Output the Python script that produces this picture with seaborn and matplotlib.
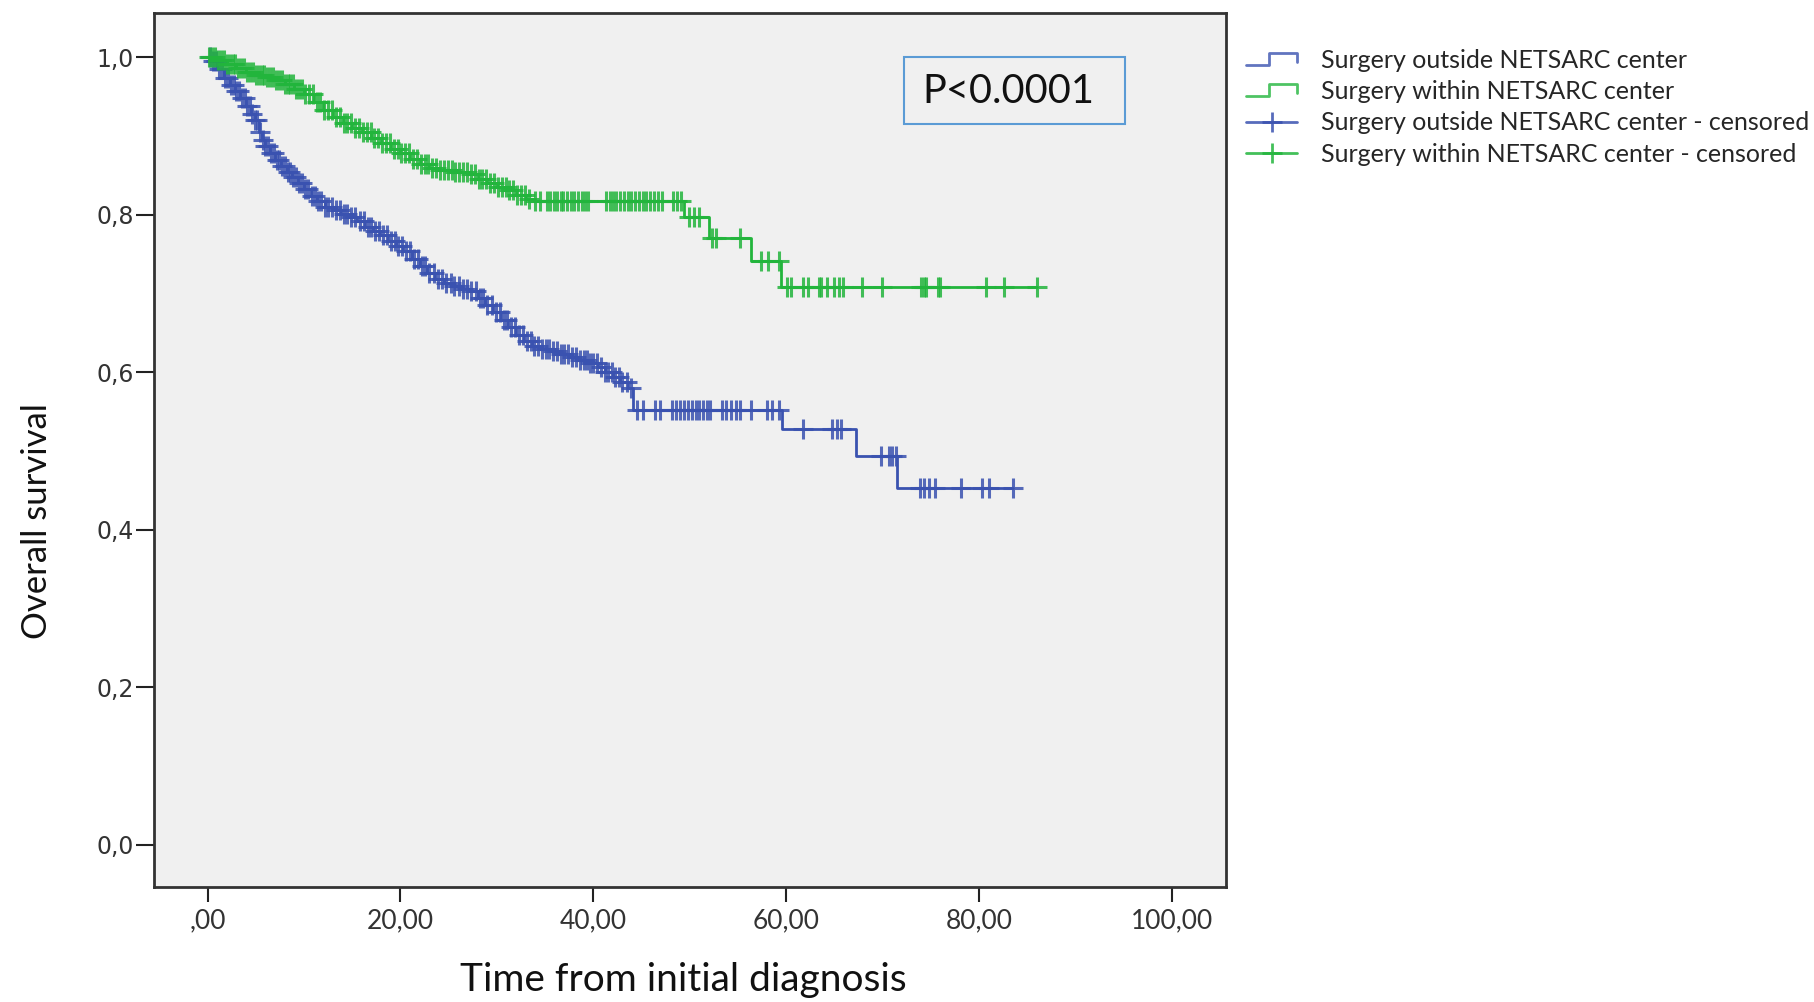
import numpy as np
import pandas as pd
import matplotlib
matplotlib.use('Agg')
import matplotlib.pyplot as plt
import seaborn as sns
from matplotlib.lines import Line2D
from matplotlib.legend_handler import HandlerBase
from matplotlib.patches import Rectangle

sns.set_theme(style="white")
plt.rcParams['font.family'] = ['Lato', 'DejaVu Sans']

# Kaplan-Meier steps (time, survival after the drop)
outside_event_time = [0.0, 0.5, 1.0, 1.7, 2.3, 2.9, 3.4, 4.0, 4.5, 4.9, 5.3, 5.6, 6.0, 6.5,
                      7.0, 7.6, 8.2, 8.8, 9.4, 10.0, 10.7, 11.4, 12.2, 13.0, 13.8, 14.6,
                      15.5, 16.3, 17.2, 17.9, 18.7, 19.5, 20.3, 21.2, 22.0, 22.8, 23.6,
                      24.5, 25.4, 26.3, 27.1, 28.0, 28.8, 29.6, 30.4, 31.2, 32.0, 32.8,
                      33.6, 34.5, 35.5, 36.5, 37.5, 38.5, 39.5, 40.5, 41.2, 42.0, 42.8,
                      43.6, 44.1, 59.6, 67.2, 71.5]
outside_event_surv = [1.0, 0.995, 0.985, 0.974, 0.965, 0.957, 0.949, 0.938, 0.928, 0.920,
                      0.905, 0.895, 0.888, 0.878, 0.870, 0.862, 0.855, 0.848, 0.840, 0.833,
                      0.824, 0.817, 0.810, 0.806, 0.801, 0.797, 0.792, 0.785, 0.780, 0.775,
                      0.767, 0.760, 0.754, 0.744, 0.735, 0.726, 0.719, 0.713, 0.709, 0.706,
                      0.703, 0.694, 0.686, 0.676, 0.666, 0.658, 0.648, 0.640, 0.633, 0.630,
                      0.627, 0.623, 0.619, 0.616, 0.612, 0.607, 0.600, 0.594, 0.588, 0.580,
                      0.552, 0.528, 0.493, 0.453]
outside_censor_time = [0.3, 0.6, 0.9, 1.2, 1.5, 1.8, 2.1, 2.4, 2.7, 3.0, 3.3, 3.6, 3.9, 4.1,
                       4.4, 4.6, 4.9, 5.1, 5.4, 5.7, 6.0, 6.3, 6.6, 6.9, 7.2, 7.4, 7.7, 8.0,
                       8.3, 8.6, 8.9, 9.2, 9.5, 9.8, 10.1, 10.4, 10.8, 11.1, 11.5, 11.8,
                       12.2, 12.5, 12.9, 13.3, 13.7, 14.1, 14.5, 14.9, 15.3, 15.8, 16.2,
                       16.6, 17.0, 17.4, 17.8, 18.2, 18.6, 19.0, 19.4, 19.8, 20.2, 20.6,
                       21.0, 21.4, 21.8, 22.2, 22.6, 23.0, 23.5, 23.9, 24.3, 24.7, 25.2,
                       25.6, 26.1, 26.5, 26.9, 27.3, 27.8, 28.2, 28.6, 29.0, 29.5, 29.9,
                       30.3, 30.7, 31.1, 31.5, 31.9, 32.3, 32.7, 33.1, 33.5, 33.9, 34.3,
                       34.7, 35.1, 35.4, 35.8, 36.2, 36.6, 37.0, 37.4, 37.8, 38.2, 38.6,
                       39.0, 39.3, 39.7, 40.0, 40.4, 40.8, 41.2, 41.5, 41.9, 42.3, 42.7,
                       43.0, 43.5, 43.9,
                       44.5, 45.1, 46.4, 46.9, 48.2, 48.6, 49.0, 49.4, 49.8, 50.2, 50.6,
                       51.0, 51.4, 51.8, 52.1, 53.3, 53.8, 54.3, 54.8, 55.2, 56.3, 58.0,
                       58.5, 59.3, 61.7, 64.8, 65.3, 65.7, 69.8, 70.7, 71.0, 71.4, 73.9,
                       74.3, 74.8, 75.4, 78.1, 80.3, 81.0, 83.5]

within_event_time = [0.0, 1.0, 2.0, 3.0, 4.0, 5.0, 6.0, 7.0, 8.0, 9.0, 10.0, 11.0, 12.0,
                     13.0, 14.0, 15.0, 16.0, 17.0, 18.0, 19.0, 20.0, 21.0, 22.0, 23.0,
                     24.0, 25.5, 27.0, 28.0, 29.0, 30.0, 31.0, 32.0, 33.0, 33.8, 49.4,
                     52.0, 56.3, 59.5]
within_event_surv = [1.0, 0.997, 0.992, 0.986, 0.981, 0.978, 0.975, 0.971, 0.966, 0.960,
                     0.953, 0.943, 0.933, 0.924, 0.917, 0.911, 0.905, 0.898, 0.891, 0.884,
                     0.878, 0.871, 0.865, 0.860, 0.857, 0.855, 0.852, 0.846, 0.840, 0.836,
                     0.831, 0.825, 0.820, 0.817, 0.797, 0.771, 0.742, 0.708]
within_censor_time = [0.2, 0.5, 0.8, 1.1, 1.4, 1.7, 2.0, 2.3, 2.6, 2.9, 3.2, 3.5, 3.8, 4.1,
                      4.4, 4.7, 5.0, 5.3, 5.6, 5.9, 6.2, 6.5, 6.8, 7.1, 7.4, 7.7, 8.0, 8.3,
                      8.6, 8.9, 9.2, 9.5, 9.8, 10.1, 10.5, 10.9, 11.3, 11.7, 12.1, 12.5,
                      12.9, 13.3, 13.7, 14.1, 14.5, 14.9, 15.3, 15.7, 16.1, 16.5, 16.9,
                      17.3, 17.7, 18.1, 18.5, 18.9, 19.3, 19.7, 20.1, 20.5, 20.9, 21.3,
                      21.7, 22.1, 22.5, 22.9, 23.3, 23.7, 24.1, 24.5, 24.9, 25.3, 25.7,
                      26.1, 26.5, 26.9, 27.3, 27.7, 28.1, 28.5, 28.9, 29.3, 29.7, 30.1,
                      30.5, 30.9, 31.3, 31.7, 32.1, 32.5, 32.9, 33.3,
                      34.0, 34.5, 35.2, 35.5, 35.9, 36.2, 36.6, 36.9, 37.3, 37.7, 38.0,
                      38.4, 38.8, 39.1, 39.5, 41.3, 41.7, 42.0, 42.4, 42.8, 43.2, 43.6,
                      43.9, 44.3, 44.7, 45.1, 45.5, 45.9, 46.3, 46.7, 47.1, 48.3, 48.7,
                      49.1, 49.9, 50.4, 51.0, 52.3, 52.7, 55.2, 57.4, 58.1, 59.3,
                      60.1, 60.5, 61.7, 62.3, 63.4, 63.6, 64.2, 65.0, 65.5, 65.9, 67.9,
                      69.9, 74.0, 74.3, 74.5, 75.7, 75.9, 80.7, 82.6, 86.0]

group_labels = ['Surgery outside NETSARC center', 'Surgery within NETSARC center']
x_ticks = [0, 20, 40, 60, 80, 100]
x_tick_labels = [',00', '20,00', '40,00', '60,00', '80,00', '100,00']
y_ticks = [0.0, 0.2, 0.4, 0.6, 0.8, 1.0]
y_tick_labels = ['0,0', '0,2', '0,4', '0,6', '0,8', '1,0']
p_text = 'P<0.0001'

blue = '#3A52B0'
green = '#22B53C'


def km_table(times, surv, censors):
    end = max(times[-1], censors[-1])
    return pd.DataFrame({'time': list(times) + [end], 'surv': list(surv) + [surv[-1]]})


def surv_at(times, surv, t):
    idx = np.searchsorted(np.asarray(times), np.asarray(t), side='right') - 1
    return np.asarray(surv)[idx]


fig = plt.figure(figsize=(18.14, 10.02), dpi=100)
ax = fig.add_axes([154 / 1814, 1 - 887 / 1002, (1226 - 154) / 1814, (887 - 13) / 1002])
ax.set_facecolor('#F0F0F0')

groups = [
    (outside_event_time, outside_event_surv, outside_censor_time, blue),
    (within_event_time, within_event_surv, within_censor_time, green),
]
for times, surv, cens, col in groups:
    df = km_table(times, surv, cens)
    sns.lineplot(data=df, x='time', y='surv', drawstyle='steps-post', color=col,
                 linewidth=2.0, estimator=None, sort=False, ax=ax)
    sns.scatterplot(x=cens, y=surv_at(times, surv, cens), marker='+', s=200,
                    linewidth=2.2, color=col, alpha=0.85, ax=ax, zorder=3)

ax.set_xlim(-5.55, 105.6)
ax.set_ylim(-0.054, 1.0565)
ax.set_xticks(x_ticks)
ax.set_xticklabels(x_tick_labels, fontsize=19, color='#333333')
ax.set_yticks(y_ticks)
ax.set_yticklabels(y_tick_labels, fontsize=17, color='#333333', family=['DejaVu Sans'])
ax.tick_params(axis='y', direction='out', length=13, width=1.5, color='#222222', pad=1.5, left=True)
ax.tick_params(axis='x', direction='out', length=11, width=1.5, color='#222222', pad=4, bottom=True)
for sp in ax.spines.values():
    sp.set_color('#333333')
    sp.set_linewidth(2.0)

ax.set_xlabel('Time from initial diagnosis', fontsize=28, color='#111111')
ax.xaxis.set_label_coords((683 - 154) / 1072, (887 - 980) / 874)
ax.xaxis.label.set_va('center')
ax.set_ylabel('Overall survival', fontsize=25, color='#111111')
ax.yaxis.set_label_coords((37 - 154) / 1072, (887 - 521) / 874)
ax.yaxis.label.set_va('center')

# p-value box
ax.add_patch(Rectangle((0.700, 0.873), 0.206, 0.077, transform=ax.transAxes,
                       facecolor='none', edgecolor='#5B9BD5', linewidth=1.5, zorder=4))
ax.text(0.797, 0.910, p_text, transform=ax.transAxes, ha='center', va='center',
        fontsize=28.5, color='#111111')


class StepHandler(HandlerBase):
    def create_artists(self, legend, orig_handle, xdescent, ydescent, width, height,
                       fontsize, trans):
        x0 = -xdescent
        y0 = -ydescent
        xs = [x0, x0 + 0.45 * width, x0 + 0.45 * width, x0 + width, x0 + width]
        ys = [y0 + 0.2 * height, y0 + 0.2 * height, y0 + 0.85 * height,
              y0 + 0.85 * height, y0 + 0.35 * height]
        line = Line2D(xs, ys, color=orig_handle.get_color(), linewidth=2.0, alpha=0.8)
        line.set_transform(trans)
        return [line]


h_blue = Line2D([], [], color=blue)
h_green = Line2D([], [], color=green)
h_blue_c = Line2D([], [], color=blue, marker='+', markersize=14, markeredgewidth=2.0,
                  linewidth=2.0, alpha=0.85)
h_green_c = Line2D([], [], color=green, marker='+', markersize=14, markeredgewidth=2.0,
                   linewidth=2.0, alpha=0.85)
fig.legend(handles=[h_blue, h_green, h_blue_c, h_green_c],
           labels=group_labels + [g + ' - censored' for g in group_labels],
           handler_map={h_blue: StepHandler(), h_green: StepHandler()},
           loc='upper left', bbox_to_anchor=(1246 / 1814, 1 - 49 / 1002), frameon=False,
           fontsize=18, handlelength=2.05, handletextpad=0.95, labelspacing=0.33,
           borderaxespad=0, borderpad=0)

fig.savefig('out.png', dpi=100)
